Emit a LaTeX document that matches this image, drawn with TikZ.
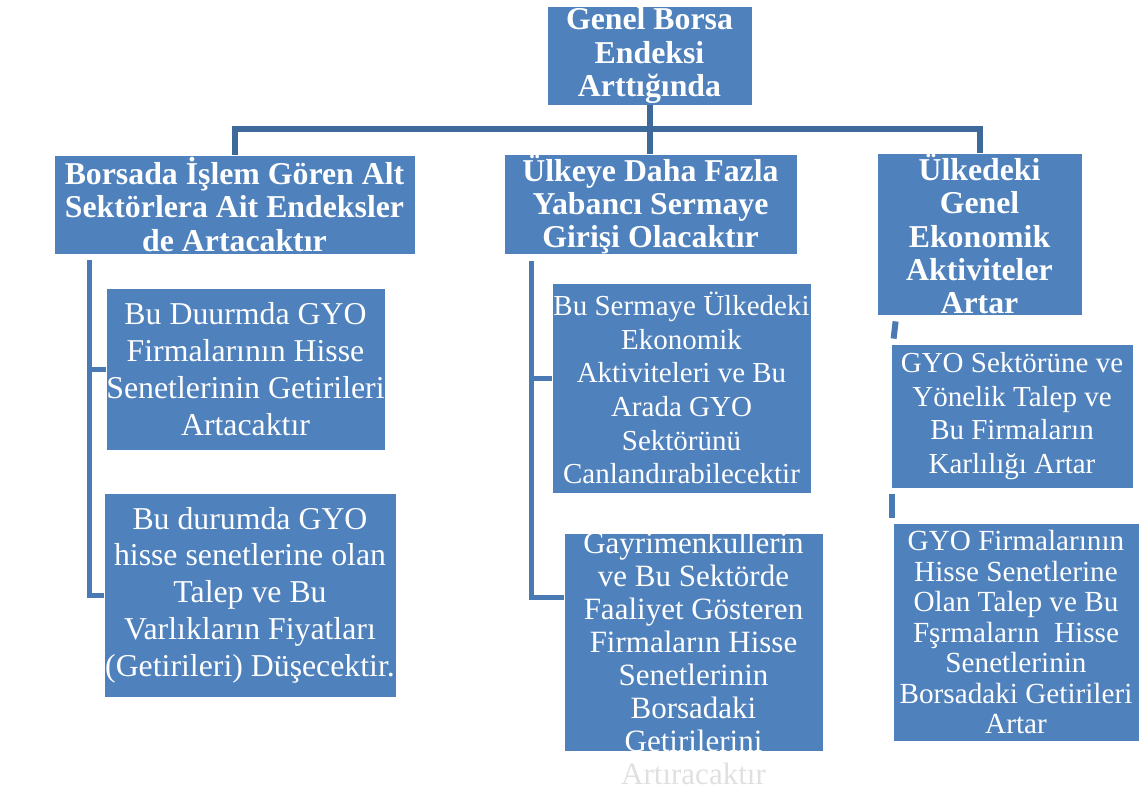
\documentclass[tikz,border=0pt]{standalone}
\usepackage{fontspec}
\setmainfont{Liberation Serif}
\definecolor{boxblue}{RGB}{79,129,189}
\definecolor{linkblue}{RGB}{62,106,155}
\definecolor{spineblue}{RGB}{74,122,180}
\usetikzlibrary{positioning}

\begin{document}
\begin{tikzpicture}[x=0.5pt, y=-0.5pt,
        head/.style={rectangle, fill=boxblue, draw=white, inner sep=0pt, align=center,
                     text=white, font=\fontsize{15.9}{16.6}\selectfont\bfseries},
        box/.style={rectangle, fill=boxblue, draw=white, inner sep=0pt, align=center,
                    text=white, font=\fontsize{14.5}{16.8}\selectfont},
        bigfont/.style={font=\fontsize{15.9}{18.4}\selectfont},
        bar/.style={linkblue, line width=3pt},
        spine/.style={spineblue, line width=2.5pt}
    ]
        \useasboundingbox (0,0) rectangle (1140,794);

        % Top
        \node[head, minimum width=102.5pt, minimum height=49.5pt] (top) at (649.5,55.5)
            {Genel Borsa\\Endeksi\\Arttığında};

        % Level 1
        \node[head, minimum width=180.5pt, minimum height=49.5pt] (sub1) at (234.5,204.5)
            {Borsada İşlem Gören Alt\\Sektörlera Ait Endeksler\\de Artacaktır};
        \node[head, minimum width=146.5pt, minimum height=49.5pt] (sub2) at (650.5,204.5)
            {Ülkeye Daha Fazla\\Yabancı Sermaye\\Girişi Olacaktır};
        \node[head, minimum width=102.5pt, minimum height=81pt] (sub3) at (979.5,234)
            {Ülkedeki\\Genel\\Ekonomik\\Aktiviteler\\Artar};

        % Left column
        \node[box, bigfont, minimum width=139.5pt, minimum height=81pt] (leftA) at (245.5,369)
            {Bu Duurmda GYO\\Firmalarının Hisse\\Senetlerinin Getirileri\\Artacaktır};
        \node[box, bigfont, minimum width=146pt, minimum height=102pt] (leftB) at (250,595)
            {Bu durumda GYO\\hisse senetlerine olan\\Talep ve Bu\\Varlıkların Fiyatları\\(Getirileri) Düşecektir.};

        % Middle column
        \node[box, minimum width=129.5pt, minimum height=105pt] (midA) at (681.5,388)
            {Bu Sermaye Ülkedeki\\Ekonomik\\Aktiviteleri ve Bu\\Arada GYO\\Sektörünü\\Canlandırabilecektir};
        \node[box, minimum width=129.5pt, minimum height=109pt] (midB) at (693.5,642) {};
        \node[text=white, align=center, inner sep=0pt, font=\fontsize{15.5}{16.5}\selectfont]
            (midBtext) at (693.5,658)
            {Gayrimenkullerin\\ve Bu Sektörde\\Faaliyet Gösteren\\Firmaların Hisse\\Senetlerinin\\Borsadaki\\Getirilerini\\{\color{black!12}Artıracaktır}};

        % Right column
        \node[box, minimum width=121pt, minimum height=72pt] (rightA) at (1012,416)
            {GYO Sektörüne ve\\Yönelik Talep ve\\Bu Firmaların\\Karlılığı Artar};
        \node[box, minimum width=123pt, minimum height=109pt, font=\fontsize{14.6}{15.25}\selectfont]
            (rightB) at (1016,632)
            {GYO Firmalarının\\Hisse Senetlerine\\Olan Talep ve Bu\\Fşrmaların\ \ Hisse\\Senetlerinin\\Borsadaki Getirileri\\Artar};

        % Top connectors
        \coordinate (hub) at (650,129);
        \draw[bar] (sub1.north) |- (hub) -| (sub3.north);
        \draw[bar] (top.south) -- (top.south |- sub2.north);

        % Spines
        \coordinate (lroot) at (89,260);
        \coordinate (mroot) at (531,261);
        \draw[spine] (lroot) |- (leftA.west);
        \draw[spine] (lroot) |- (leftB.west);
        \draw[spine] (mroot) |- ([yshift=5pt]midA.west);
        \draw[spine] (mroot) |- ([yshift=22.5pt]midB.west);
        \draw[spine, line width=3pt] ([shift={(9.5pt,-3pt)}]sub3.south west) -- ([shift={(1.5pt,2.5pt)}]rightA.north west);
        \draw[spine, line width=3pt] ([shift={(0.5pt,-3pt)}]rightA.south west) -- ([shift={(-0.5pt,2.5pt)}]rightB.north west);
    \end{tikzpicture}
\end{document}
